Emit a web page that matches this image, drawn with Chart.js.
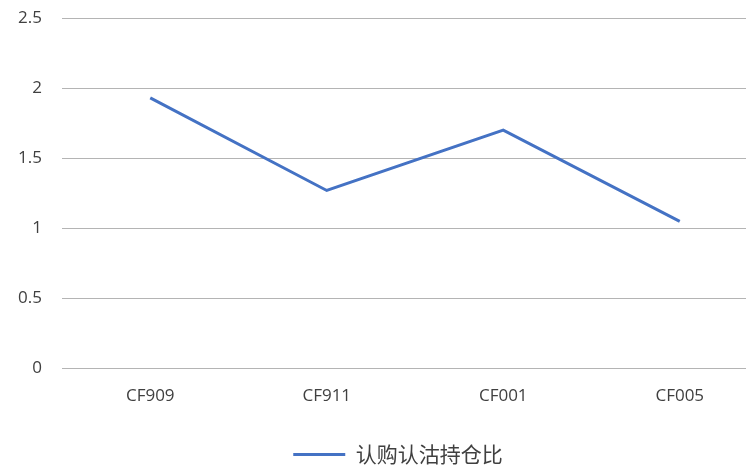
<!DOCTYPE html>
<html>
<head>
<meta charset="utf-8">
<script src="https://cdn.jsdelivr.net/npm/chart.js@4/dist/chart.umd.min.js"></script>
<style>
  html, body { margin: 0; padding: 0; background: #fff; overflow: hidden; }
  #wrap { width: 770px; height: 470px; }
</style>
</head>
<body>
<div id="wrap"><canvas id="chart"></canvas></div>
<script>
// data
const categories = ['CF909', 'CF911', 'CF001', 'CF005'];
const ratioValues = [1.93, 1.27, 1.70, 1.05];
const seriesName = '认购认沽持仓比';

const tickFont = { family: 'Open Sans, sans-serif', size: 17 };
const legendFont = { family: '"Noto Sans CJK SC", sans-serif', size: 21 };
const textColor = '#404040';

// nudge the legend a bit to the right, like the original
const legendShift = {
    id: 'legendShift',
    afterLayout(chart) {
        chart.legend.left += 28;
    }
};

const ctx = document.getElementById('chart').getContext('2d');
new Chart(ctx, {
    type: 'line',
    data: {
        labels: categories,
        datasets: [{
            label: seriesName,
            data: ratioValues,
            borderColor: '#4472C4',
            backgroundColor: '#4472C4',
            borderWidth: 3,
            pointRadius: 0,
            tension: 0
        }]
    },
    plugins: [legendShift],
    options: {
        responsive: true,
        maintainAspectRatio: false,
        animation: false,
        layout: { padding: { top: 18, right: 2, left: 0, bottom: -5 } },
        plugins: {
            legend: {
                position: 'bottom',
                labels: {
                    color: textColor,
                    font: legendFont,
                    usePointStyle: true,
                    pointStyle: 'line',
                    pointStyleWidth: 52,
                    padding: 29
                }
            },
            tooltip: { enabled: false }
        },
        scales: {
            x: {
                offset: true,
                grid: { display: false },
                border: { display: false },
                ticks: { color: textColor, font: tickFont, padding: 9 }
            },
            y: {
                min: 0,
                max: 2.5,
                ticks: {
                    stepSize: 0.5,
                    color: textColor,
                    font: tickFont,
                    padding: 20,
                    callback: (v) => String(v)
                },
                grid: { color: '#b4b4b4', lineWidth: 1, drawTicks: false },
                border: { display: false },
                afterFit: (scale) => {
                    scale.width = 62;
                    scale.paddingTop = 0;
                    scale.paddingBottom = 0;
                }
            }
        }
    }
});
</script>
</body>
</html>
